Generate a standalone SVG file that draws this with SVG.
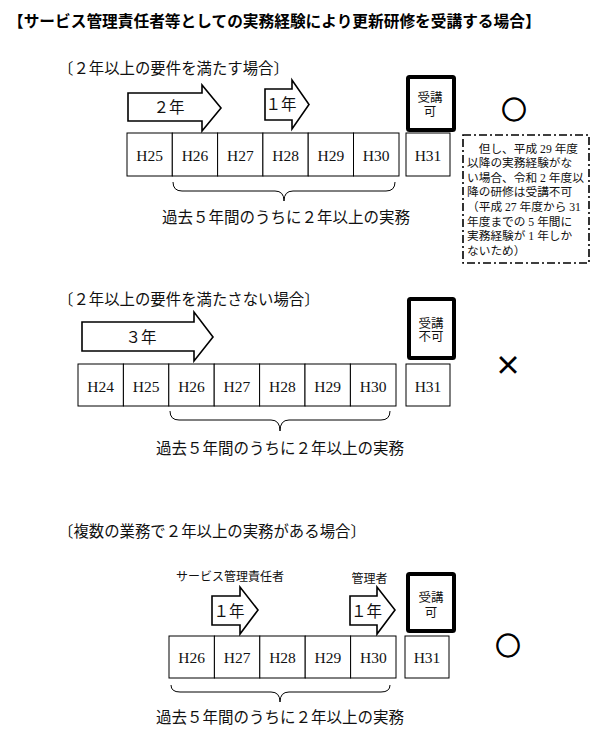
<svg xmlns="http://www.w3.org/2000/svg" width="606" height="740" viewBox="0 0 606 740">
<style>
.t{font-family:"Liberation Serif","Noto Sans CJK JP",serif;fill:#111}
.g{font-family:"Noto Sans CJK JP",sans-serif;fill:#000}
.sub{font-size:15.4px}
.cell{fill:#fff;stroke:#000;stroke-width:1}
.yr{font-size:15.5px;text-anchor:middle}
.arrow{fill:#fff;stroke:#000;stroke-width:1.6;stroke-linejoin:miter}
.thick{fill:#fff;stroke:#000;stroke-width:4;rx:1.5}
.brace{fill:none;stroke:#000;stroke-width:1}
.sm{font-size:12.5px;text-anchor:middle}
.box{font-size:11.7px}
.mark{font-family:"Noto Sans CJK JP",sans-serif;font-weight:bold;text-anchor:middle;fill:#000}
.ring{stroke:#000;stroke-width:1.1}
</style>
<rect width="606" height="740" fill="#fff"/>
<text id="title" class="g" x="8" y="26.5" font-size="15.7" font-weight="bold">【サービス管理責任者等としての実務経験により更新研修を受講する場合】</text>

<!-- Section 1 -->
<g id="case1">
<text class="t sub" x="58" y="73.5">〔２年以上の要件を満たす場合〕</text>
<g id="c1-arrow2">
<polygon class="arrow" points="128,93 202,93 202,85 221,108 202,131 202,121 128,121"/>
<text class="t" x="169" y="112.5" font-size="15.5" text-anchor="middle">２年</text>
</g>
<g id="c1-arrow1">
<polygon class="arrow" points="265,89 292,89 292,80 309,104.5 292,129 292,120 265,120"/>
<text class="t" x="281" y="109.5" font-size="15.5" text-anchor="middle">１年</text>
</g>
<g id="c1-ok">
<rect class="thick" x="408" y="77" width="46" height="53"/>
<text class="t sm" x="430" y="102">受講</text>
<text class="t sm" x="430" y="116">可</text>
</g>
<g id="c1-years">
<rect class="cell" x="127" y="133" width="45.3" height="43"/>
<rect class="cell" x="172.3" y="133" width="45.3" height="43"/>
<rect class="cell" x="217.6" y="133" width="45.3" height="43"/>
<rect class="cell" x="262.9" y="133" width="45.3" height="43"/>
<rect class="cell" x="308.2" y="133" width="45.3" height="43"/>
<rect class="cell" x="353.5" y="133" width="45.5" height="43"/>
<rect class="cell" x="406" y="133" width="44" height="43"/>
<text class="t yr" x="149.7" y="161">H25</text>
<text class="t yr" x="195" y="161">H26</text>
<text class="t yr" x="240.3" y="161">H27</text>
<text class="t yr" x="285.6" y="161">H28</text>
<text class="t yr" x="330.9" y="161">H29</text>
<text class="t yr" x="376.2" y="161">H30</text>
<text class="t yr" x="428" y="161">H31</text>
</g>
<g id="c1-brace">
<path class="brace" d="M173,182 Q173,191 182,191 H275 Q284,191 284,201 Q284,191 293,191 H386 Q395,191 395,182"/>
<text class="t" x="286" y="222.5" font-size="15.5" text-anchor="middle">過去５年間のうちに２年以上の実務</text>
</g>
<text id="c1-mark" class="mark ring" x="514" y="118.5" font-size="25">○</text>
<g id="c1-note">
<rect x="463" y="135" width="126" height="128" fill="none" stroke="#000" stroke-width="1.6" stroke-dasharray="8,3,2,3"/>
<text class="t box" x="467" y="152.5">　但し、平成 29 年度</text>
<text class="t box" x="467" y="167.1">以降の実務経験がな</text>
<text class="t box" x="467" y="181.7">い場合、令和 2 年度以</text>
<text class="t box" x="467" y="196.3">降の研修は受講不可</text>
<text class="t box" x="467" y="210.9">（平成 27 年度から 31</text>
<text class="t box" x="467" y="225.5">年度までの 5 年間に</text>
<text class="t box" x="467" y="240.1">実務経験が 1 年しか</text>
<text class="t box" x="467" y="254.7">ないため）</text>
</g>
</g>

<!-- Section 2 -->
<g id="case2">
<text class="t sub" x="58" y="305">〔２年以上の要件を満たさない場合〕</text>
<g id="c2-arrow3">
<polygon class="arrow" points="82,322 194,322 194,312 213,337 194,361 194,351 82,351"/>
<text class="t" x="141" y="342.5" font-size="15.5" text-anchor="middle">３年</text>
</g>
<g id="c2-ng">
<rect class="thick" x="409" y="299" width="45" height="59"/>
<text class="t sm" x="431" y="327.5">受講</text>
<text class="t sm" x="431" y="341">不可</text>
</g>
<g id="c2-years">
<rect class="cell" x="78" y="364" width="45.4" height="42"/>
<rect class="cell" x="123.4" y="364" width="45.4" height="42"/>
<rect class="cell" x="168.8" y="364" width="45.4" height="42"/>
<rect class="cell" x="214.2" y="364" width="45.4" height="42"/>
<rect class="cell" x="259.6" y="364" width="45.4" height="42"/>
<rect class="cell" x="305" y="364" width="45.4" height="42"/>
<rect class="cell" x="350.4" y="364" width="45.6" height="42"/>
<rect class="cell" x="406" y="364" width="44" height="42"/>
<text class="t yr" x="100.7" y="391.5">H24</text>
<text class="t yr" x="146.1" y="391.5">H25</text>
<text class="t yr" x="191.5" y="391.5">H26</text>
<text class="t yr" x="236.9" y="391.5">H27</text>
<text class="t yr" x="282.3" y="391.5">H28</text>
<text class="t yr" x="327.7" y="391.5">H29</text>
<text class="t yr" x="373.2" y="391.5">H30</text>
<text class="t yr" x="428" y="391.5">H31</text>
</g>
<g id="c2-brace">
<path class="brace" d="M170,411 Q170,420 179,420 H271 Q280,420 280,431 Q280,420 289,420 H381 Q390,420 390,411"/>
<text class="t" x="280" y="454" font-size="15.5" text-anchor="middle">過去５年間のうちに２年以上の実務</text>
</g>
<text id="c2-mark" class="mark" x="508" y="375" font-size="27">×</text>
</g>

<!-- Section 3 -->
<g id="case3">
<text class="t sub" x="58" y="537">〔複数の業務で２年以上の実務がある場合〕</text>
<text class="t" x="230" y="580.5" font-size="12" text-anchor="middle">サービス管理責任者</text>
<text class="t" x="369.5" y="582.5" font-size="12" text-anchor="middle">管理者</text>
<g id="c3-arrow-a">
<polygon class="arrow" points="212,596 240,596 240,587 258,610 240,634 240,625 212,625"/>
<text class="t" x="229" y="616.5" font-size="15.5" text-anchor="middle">１年</text>
</g>
<g id="c3-arrow-b">
<polygon class="arrow" points="350,596 377,596 377,587 395,610 377,634 377,625 350,625"/>
<text class="t" x="366.5" y="616.5" font-size="15.5" text-anchor="middle">１年</text>
</g>
<g id="c3-ok">
<rect class="thick" x="408" y="574" width="46" height="57"/>
<text class="t sm" x="431" y="602">受講</text>
<text class="t sm" x="431" y="617">可</text>
</g>
<g id="c3-years">
<rect class="cell" x="169" y="636" width="45.4" height="42"/>
<rect class="cell" x="214.4" y="636" width="45.4" height="42"/>
<rect class="cell" x="259.8" y="636" width="45.4" height="42"/>
<rect class="cell" x="305.2" y="636" width="45.4" height="42"/>
<rect class="cell" x="350.6" y="636" width="45.4" height="42"/>
<rect class="cell" x="405" y="636" width="44" height="42"/>
<text class="t yr" x="191.7" y="662.5">H26</text>
<text class="t yr" x="237.1" y="662.5">H27</text>
<text class="t yr" x="282.5" y="662.5">H28</text>
<text class="t yr" x="327.9" y="662.5">H29</text>
<text class="t yr" x="373.3" y="662.5">H30</text>
<text class="t yr" x="427" y="662.5">H31</text>
</g>
<g id="c3-brace">
<path class="brace" d="M171,685 Q171,692 180,692 H271 Q280,692 280,702 Q280,692 289,692 H381 Q390,692 390,685"/>
<text class="t" x="280" y="723" font-size="15.5" text-anchor="middle">過去５年間のうちに２年以上の実務</text>
</g>
<text id="c3-mark" class="mark ring" x="508" y="654.5" font-size="25">○</text>
</g>
</svg>
